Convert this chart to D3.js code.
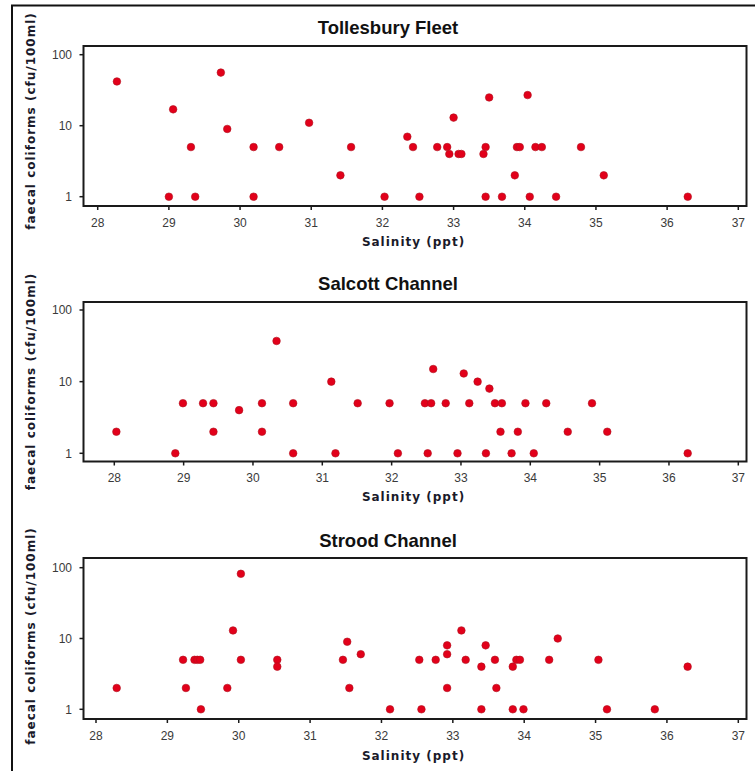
<!DOCTYPE html>
<html>
<head>
<meta charset="utf-8">
<script src="https://cdn.jsdelivr.net/npm/d3@7/dist/d3.min.js"></script>
<style>
  html, body { margin: 0; padding: 0; background: #fff; }
  svg { display: block; }
  .tick-label { font-family: "Liberation Sans", Arial, sans-serif; font-size: 12px; fill: #3a3a3a; }
  .axis-title { font-family: "DejaVu Sans", sans-serif; font-weight: bold; font-size: 12px; letter-spacing: 1px; fill: #1a1a2a; }
  .panel-title { font-family: "Liberation Sans", Arial, sans-serif; font-weight: bold; font-size: 18.5px; fill: #111; }
</style>
</head>
<body>
<svg id="chart" width="755" height="771"></svg>
<script>
// Salinity (ppt) and faecal coliform counts (cfu/100ml) for each site
const tollesburySalinity = [28.27, 29.06, 29.31, 29.00, 29.37, 29.73, 29.82, 30.19, 30.19, 30.55,
  30.97, 31.56, 31.41, 32.03, 32.35, 32.43, 32.52, 32.77, 32.91, 32.94, 33.00, 33.07, 33.11,
  33.42, 33.45, 33.45, 33.50, 33.68, 33.86, 33.89, 33.93, 34.04, 34.07, 34.15, 34.24, 34.44,
  34.79, 35.11, 36.29];
const tollesburyColiforms = [42, 17, 5, 1, 1, 56, 9, 5, 1, 5,
  11, 5, 2, 1, 7, 5, 1, 5, 5, 4, 13, 4, 4,
  4, 5, 1, 25, 1, 2, 5, 5, 27, 1, 5, 5, 1,
  5, 2, 1];

const salcottSalinity = [28.03, 28.88, 28.99, 29.28, 29.43, 29.43, 29.80, 30.13, 30.13, 30.34,
  30.58, 30.58, 31.13, 31.19, 31.51, 31.97, 32.09, 32.48, 32.52, 32.57, 32.60, 32.78, 32.95,
  33.04, 33.12, 33.24, 33.36, 33.41, 33.49, 33.59, 33.57, 33.73, 33.82, 33.93, 34.05, 34.23,
  34.54, 34.89, 35.11, 36.27];
const salcottColiforms = [2, 1, 5, 5, 5, 2, 4, 5, 2, 37,
  5, 1, 10, 1, 5, 5, 1, 5, 1, 5, 15, 5, 1,
  13, 5, 10, 1, 8, 5, 5, 2, 1, 2, 5, 1, 5,
  2, 5, 2, 1];

const stroodSalinity = [28.29, 29.22, 29.26, 29.38, 29.42, 29.46, 29.47, 29.84, 29.92, 30.03,
  30.03, 30.54, 30.54, 31.46, 31.52, 31.55, 31.71, 32.12, 32.53, 32.56, 32.76, 32.92, 32.92,
  32.92, 33.12, 33.18, 33.40, 33.40, 33.46, 33.59, 33.61, 33.84, 33.84, 33.89, 33.94, 33.99,
  34.35, 34.47, 35.04, 35.16, 35.83, 36.29];
const stroodColiforms = [2, 5, 2, 5, 5, 5, 1, 2, 13, 82,
  5, 5, 4, 5, 9, 2, 6, 1, 5, 1, 5, 8, 6,
  2, 13, 5, 4, 1, 8, 5, 2, 4, 1, 5, 5, 1,
  5, 10, 5, 1, 1, 4];

const siteNames = ["Tollesbury Fleet", "Salcott Channel", "Strood Channel"];
const salinityTicks = [28, 29, 30, 31, 32, 33, 34, 35, 36, 37];
const coliformTicks = [1, 10, 100];
const xAxisTitle = "Salinity (ppt)";
const yAxisTitle = "faecal coliforms (cfu/100ml)";

// Panel geometry (pixels)
const panels = [
  { name: siteNames[0], sal: tollesburySalinity, fc: tollesburyColiforms,
    top: 46, bottom: 206, x28: 97.7, x37: 738.3, y1: 196.7, y100: 54.7,
    titleY: 33.5, xTitleY: 246, yTitleY: 121 },
  { name: siteNames[1], sal: salcottSalinity, fc: salcottColiforms,
    top: 302, bottom: 461.5, x28: 114.3, x37: 738.3, y1: 453.3, y100: 310,
    titleY: 289.5, xTitleY: 501, yTitleY: 381.5 },
  { name: siteNames[2], sal: stroodSalinity, fc: stroodColiforms,
    top: 558, bottom: 719, x28: 96, x37: 738.3, y1: 709.3, y100: 567.7,
    titleY: 546.5, xTitleY: 760, yTitleY: 636 }
];
const frameLeft = 83.5, frameRight = 746.5;

const svg = d3.select("#chart");

// outer figure border (left and top edges)
svg.append("path")
  .attr("d", "M12,771 L12,5.5 L755,5.5")
  .attr("fill", "none").attr("stroke", "#111").attr("stroke-width", 2);

panels.forEach(p => {
  const x = d3.scaleLinear().domain([28, 37]).range([p.x28, p.x37]);
  const y = d3.scaleLog().domain([1, 100]).range([p.y1, p.y100]);
  const g = svg.append("g");

  // title
  g.append("text").attr("class", "panel-title")
    .attr("x", 388).attr("y", p.titleY).attr("text-anchor", "middle").text(p.name);

  // plot frame
  g.append("rect")
    .attr("x", frameLeft).attr("y", p.top)
    .attr("width", frameRight - frameLeft).attr("height", p.bottom - p.top)
    .attr("fill", "#fff").attr("stroke", "#1a1a1a").attr("stroke-width", 2);

  // x axis ticks and labels
  const xa = g.selectAll(".xt").data(salinityTicks).enter().append("g")
    .attr("transform", d => `translate(${x(d)},${p.bottom})`);
  xa.append("line").attr("y1", 0).attr("y2", 4).attr("stroke", "#1a1a1a").attr("stroke-width", 1.5);
  xa.append("text").attr("class", "tick-label").attr("y", 20.5)
    .attr("text-anchor", "middle").text(d => d);

  // y axis ticks and labels
  const ya = g.selectAll(".yt").data(coliformTicks).enter().append("g")
    .attr("transform", d => `translate(${frameLeft},${y(d)})`);
  ya.append("line").attr("x1", -4).attr("x2", 0).attr("stroke", "#1a1a1a").attr("stroke-width", 1.5);
  ya.append("text").attr("class", "tick-label").attr("x", -11.5).attr("dy", "0.35em")
    .attr("text-anchor", "end").text(d => d);

  // axis titles
  g.append("text").attr("class", "axis-title")
    .attr("x", 413.5).attr("y", p.xTitleY).attr("text-anchor", "middle").text(xAxisTitle);
  g.append("text").attr("class", "axis-title")
    .attr("transform", `translate(34.5,${p.yTitleY}) rotate(-90)`)
    .attr("text-anchor", "middle").text(yAxisTitle);

  // points
  g.selectAll("circle").data(p.sal.map((s, i) => [s, p.fc[i]])).enter().append("circle")
    .attr("cx", d => x(d[0])).attr("cy", d => y(d[1])).attr("r", 3.8)
    .attr("fill", "#e2001a").attr("stroke", "#b0101e").attr("stroke-width", 0.6);
});
</script>
</body>
</html>
